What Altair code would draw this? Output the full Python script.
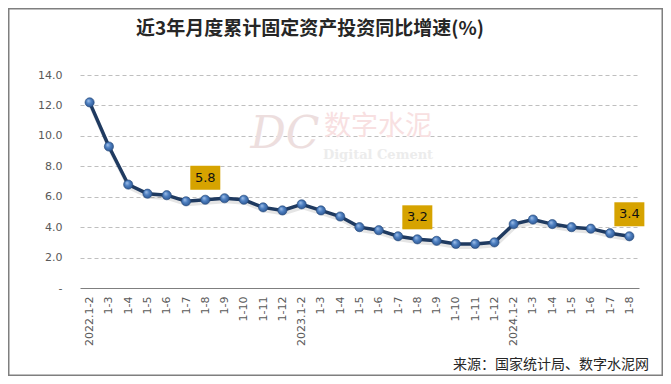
import altair as alt
import pandas as pd

labels = ["2022.1-2", "1-3", "1-4", "1-5", "1-6", "1-7", "1-8", "1-9", "1-10", "1-11", "1-12",
          "2023.1-2", "1-3", "1-4", "1-5", "1-6", "1-7", "1-8", "1-9", "1-10", "1-11", "1-12",
          "2024.1-2", "1-3", "1-4", "1-5", "1-6", "1-7", "1-8"]
values = [12.2, 9.3, 6.8, 6.2, 6.1, 5.7, 5.8, 5.9, 5.8, 5.3, 5.1,
          5.5, 5.1, 4.7, 4.0, 3.8, 3.4, 3.2, 3.1, 2.9, 2.9, 3.0,
          4.2, 4.5, 4.2, 4.0, 3.9, 3.6, 3.4]
highlight_idx = [6, 17, 28]
y_ticks = [0, 2, 4, 6, 8, 10, 12, 14]

title_text = "近3年月度累计固定资产投资同比增速(%)"
source_text = "来源：国家统计局、数字水泥网"

W, H = 559, 213
PL, PT, PR, PB = 72, 67, 24, 88

df = pd.DataFrame({"i": list(range(len(values))), "label": labels, "value": values})
df["hl"] = df["i"].isin(highlight_idx)
df["txt"] = [f"{v:.1f}" for v in values]

label_arr = "[" + ",".join(f"'{l}'" for l in labels) + "]"

x_enc = alt.X(
    "i:O",
    scale=alt.Scale(type="point", padding=0.5),
    axis=alt.Axis(
        title=None,
        labelExpr=f"{label_arr}[datum.value]",
        labelAngle=270,
        labelFont="DejaVu Sans",
        labelFontSize=11,
        labelColor="#595959",
        labelPadding=8,
        ticks=False,
        domain=True,
        domainColor="#7f7f7f",
        domainWidth=1,
        grid=False,
    ),
)
y_enc = alt.Y(
    "value:Q",
    scale=alt.Scale(domain=[0, 14], nice=False, zero=True),
    axis=alt.Axis(
        title=None,
        values=y_ticks,
        labelExpr="datum.value == 0 ? '-' : format(datum.value, '.1f')",
        labelFont="DejaVu Sans",
        labelFontSize=11,
        labelColor="#595959",
        labelPadding=18,
        ticks=False,
        domain=False,
        grid=True,
        gridColor="#bfbfbf",
        gridDash=[4, 3],
        gridWidth=1,
        gridOpacity={"condition": {"test": "datum.value === 0", "value": 0}, "value": 1},
    ),
)

base = alt.Chart(df)

shadow = base.mark_line(color="#000000", opacity=0.1, strokeWidth=4, xOffset=1, yOffset=3).encode(x=x_enc, y=y_enc)
line = base.mark_line(color="#1f3a60", strokeWidth=3.5).encode(x=x_enc, y=y_enc)

grad = alt.RadialGradient(
    gradient="radial",
    stops=[
        alt.GradientStop(offset=0, color="#a8c5ec"),
        alt.GradientStop(offset=0.45, color="#4d7fc0"),
        alt.GradientStop(offset=1, color="#284f88"),
    ],
    x1=0.35, y1=0.3, r1=0, x2=0.5, y2=0.5, r2=0.6,
)
pts = base.mark_point(filled=True, size=85, fill=grad, stroke="#24487a", strokeWidth=0.6, opacity=1).encode(x=x_enc, y=y_enc)

hl = base.transform_filter("datum.hl")
boxes = hl.mark_point(
    shape="M-1,-0.8L1,-0.8L1,0.8L-1,0.8Z", size=900, filled=True, fill="#d6a300", opacity=1, yOffset=-22
).encode(x=x_enc, y=y_enc)
box_txt = hl.mark_text(font="DejaVu Sans", fontSize=13, color="#111111", yOffset=-22, baseline="middle").encode(
    x=x_enc, y=y_enc, text="txt:N"
)

def fixed_text(t, x, y, **kw):
    return alt.Chart(pd.DataFrame({"t": [t]})).mark_text(**kw).encode(text="t:N", x=alt.value(x), y=alt.value(y))

title = fixed_text(title_text, 56, -46, font="Noto Sans CJK SC", fontSize=19, fontWeight="bold",
                   color="#262626", align="left", baseline="middle")
source = fixed_text(source_text, 569, 290, font="Noto Sans CJK SC", fontSize=14, color="#262626",
                    align="right", baseline="middle")
wm_dc = fixed_text("DC", 205, 60, font="DejaVu Serif", fontSize=44, fontStyle="italic", color="#eddede",
                   align="center", baseline="middle")
wm_cn = fixed_text("数字水泥", 298, 52, font="Noto Sans CJK SC", fontSize=27, color="#f8e0e1",
                   align="center", baseline="middle")
wm_en = fixed_text("Digital Cement", 298, 80, font="DejaVu Serif", fontSize=13, fontWeight="bold",
                   color="#ececec", align="center", baseline="middle")

border = alt.Chart(pd.DataFrame({"a": [0]})).mark_rect(fill=None, stroke="#7f7f7f", strokeWidth=1.5).encode(
    x=alt.value(-PL + 0.75), x2=alt.value(W + PR - 0.75), y=alt.value(-PT + 0.75), y2=alt.value(H + PB - 0.75)
)

chart = alt.layer(
    wm_dc, wm_cn, wm_en, shadow, line, pts, boxes, box_txt, title, source, border
).properties(
    width=W, height=H,
    autosize=alt.AutoSizeParams(type="none"),
    padding={"left": PL, "top": PT, "right": PR, "bottom": PB},
    background="white",
).configure_view(stroke=None)

chart.save("out.html", embed_options={"renderer": "svg", "actions": False})
